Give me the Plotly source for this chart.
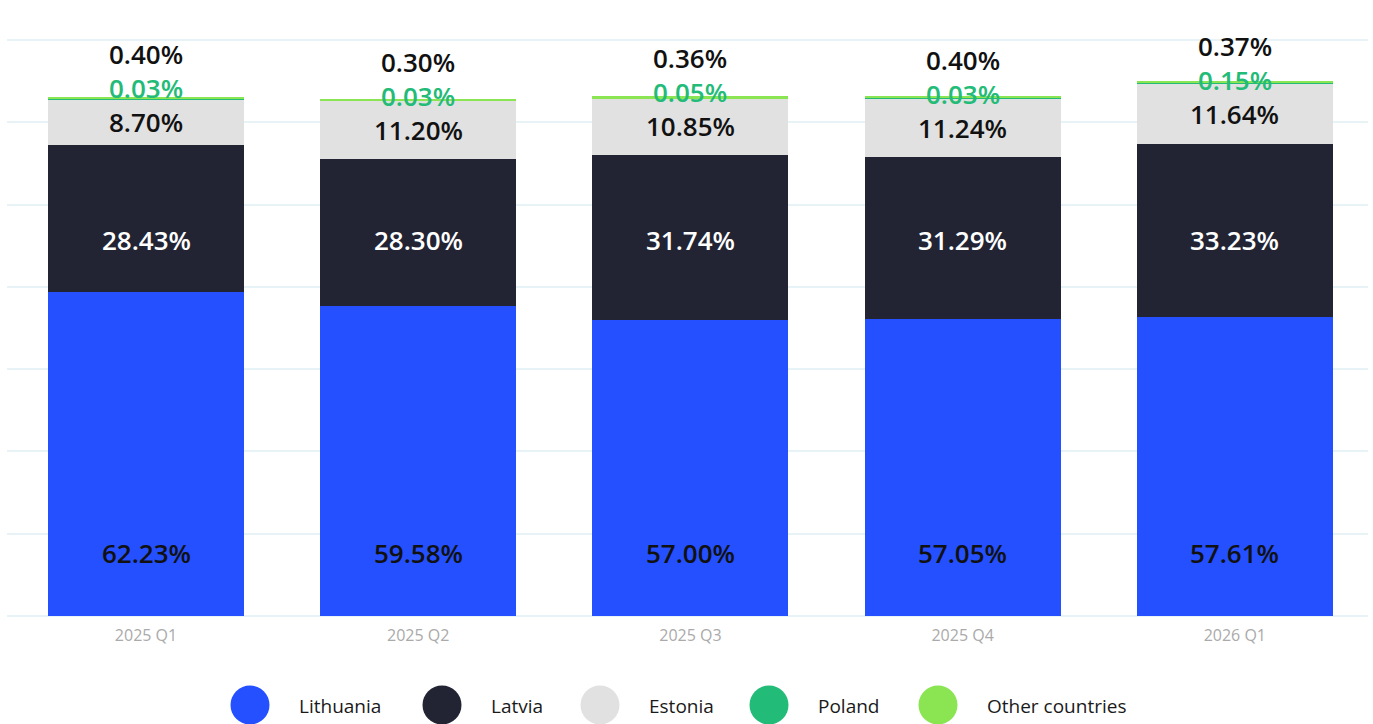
import plotly.graph_objects as go

# Quarterly share of customers by country (percent)
quarters = ["2025 Q1", "2025 Q2", "2025 Q3", "2025 Q4", "2026 Q1"]
series = ["Lithuania", "Latvia", "Estonia", "Poland", "Other countries"]

lithuania = [62.23, 59.58, 57.00, 57.05, 57.61]
latvia = [28.43, 28.30, 31.74, 31.29, 33.23]
estonia = [8.70, 11.20, 10.85, 11.24, 11.64]
poland = [0.03, 0.03, 0.05, 0.03, 0.15]
other = [0.40, 0.30, 0.36, 0.40, 0.37]

values = [lithuania, latvia, estonia, poland, other]
colors = ["#2450ff", "#222433", "#e1e1e1", "#22bb77", "#8be553"]
label_colors = ["#111111", "#ffffff", "#111111", "#22bb77", "#111111"]

W, H = 1373, 724
ML, MR = 7, 5
PLOT_BOTTOM_PX, PLOT_TOP_PX = 616, 40
EDGE_PAD_PX = 3  # keeps the outer gridlines inside the plot area
Y_MAX = 110.8
px_per_unit = (PLOT_BOTTOM_PX - PLOT_TOP_PX) / Y_MAX
pad_units = EDGE_PAD_PX / px_per_unit

FONT = "Open Sans"

fig = go.Figure()
for name, vals, col in zip(series, values, colors):
    fig.add_trace(go.Bar(
        x=quarters, y=vals, name=name,
        marker=dict(color=col, line=dict(width=0)),
        showlegend=False,
        hovertemplate="%{x}<br>" + name + ": %{y:.2f}%<extra></extra>",
    ))

# Value labels placed per segment, stacked so neighbouring labels don't collide
annotations = []
gap = 34 / px_per_unit
for i, q in enumerate(quarters):
    base_est = lithuania[i] + latvia[i]
    base_pol = base_est + estonia[i]
    pol_mid = base_pol + poland[i] / 2
    top = base_pol + poland[i] + other[i]

    y_lith = 63 / px_per_unit
    y_latv = (PLOT_BOTTOM_PX - 240) / px_per_unit
    y_est = base_est + estonia[i] / 2
    y_pol = max(pol_mid, y_est + gap)
    y_oth = max(top + 12 / px_per_unit, y_pol + gap)

    for k, yv in enumerate([y_lith, y_latv, y_est, y_pol, y_oth]):
        annotations.append(dict(
            x=q, y=yv, xref="x", yref="y",
            text=f"{values[k][i]:.2f}%", showarrow=False,
            font=dict(family=FONT, size=26, color=label_colors[k], weight=600),
        ))

# Custom legend with large round swatches along the bottom
legend_centers_px = [250, 442, 600, 769, 938]
legend_y_px = 705
shapes = []
for name, col, cx in zip(series, colors, legend_centers_px):
    xp = (cx - ML) / (W - ML - MR)
    yp = (H - legend_y_px) / H
    shapes.append(dict(
        type="circle", xref="paper", yref="paper",
        xsizemode="pixel", ysizemode="pixel",
        xanchor=xp, yanchor=yp,
        x0=-19.5, x1=19.5, y0=-19.5, y1=19.5,
        fillcolor=col, line=dict(width=0), layer="above",
    ))
    annotations.append(dict(
        x=(cx + 47 - ML) / (W - ML - MR), y=(H - legend_y_px - 1) / H,
        xref="paper", yref="paper", xanchor="left", yanchor="middle",
        text=name, showarrow=False,
        font=dict(family=FONT, size=19, color="#1a1a1a"),
    ))

fig.update_layout(
    barmode="stack",
    bargap=0.28,
    width=W, height=H,
    margin=dict(l=ML, r=MR, t=0, b=0, pad=0),
    paper_bgcolor="white",
    plot_bgcolor="white",
    font=dict(family=FONT),
    annotations=annotations,
    shapes=shapes,
    xaxis=dict(
        range=[-0.5107, 4.4893],
        showgrid=False, zeroline=False, showline=False,
        ticks="", ticklabelstandoff=5,
        tickfont=dict(family=FONT, size=16, color="#aaaaaa"),
        fixedrange=True,
    ),
    yaxis=dict(
        domain=[(H - PLOT_BOTTOM_PX - EDGE_PAD_PX) / H,
                (H - PLOT_TOP_PX + EDGE_PAD_PX) / H],
        range=[-pad_units, Y_MAX + pad_units],
        tickvals=[Y_MAX * k / 7 for k in range(8)],
        showticklabels=False,
        showgrid=True, gridcolor="#e8f3f7", gridwidth=1.5,
        zeroline=False, showline=False, ticks="",
        fixedrange=True,
    ),
)

fig.write_html("out.html")
